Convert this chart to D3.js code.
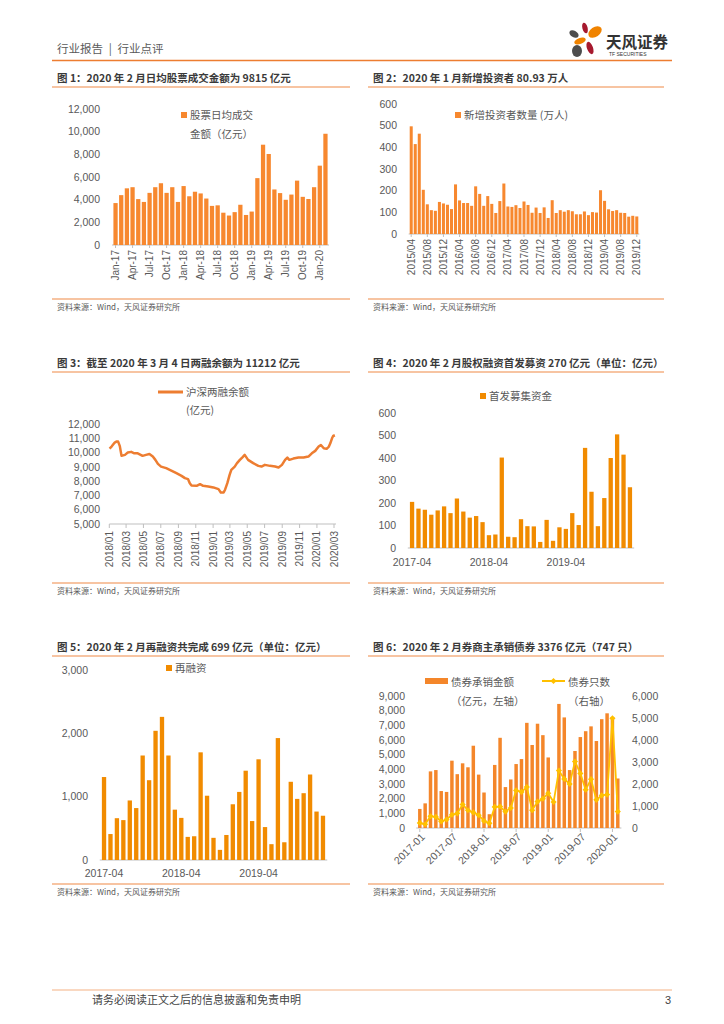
<!DOCTYPE html>
<html>
<head>
<meta charset="utf-8">
<script src="https://cdn.jsdelivr.net/npm/d3@7"></script>
<style>
  body { margin: 0; background: #fff; }
</style>
</head>
<body>
<svg id="page" width="724" height="1024"></svg>
<script>
// month keys helper (categories only, values are typed below)
function monthSeq(year, month, n) {
    return d3.range(n).map(i => d3.timeFormat("%Y-%m")(new Date(year, month - 1 + i, 1)));
}

// Fig 1: daily average turnover, Jan-17 .. Feb-20
const turnoverMonths = monthSeq(2017, 1, 38);
const turnoverValues = [3700, 4400, 5000, 5100, 4050, 3800, 4600, 5100, 5450, 4600, 5100, 3800,
    5200, 4300, 4700, 4550, 4100, 3450, 3500, 2850, 2600, 2900, 3550, 2650,
    2950, 5900, 8850, 8030, 4900, 4580, 3990, 4450, 5680, 4250, 4060, 5100,
    7000, 9815];
const turnoverTicks = ["Jan-17", "Apr-17", "Jul-17", "Oct-17", "Jan-18", "Apr-18", "Jul-18",
    "Oct-18", "Jan-19", "Apr-19", "Jul-19", "Oct-19", "Jan-20"];
const turnoverYTicks = [0, 2000, 4000, 6000, 8000, 10000, 12000];

// Fig 2: new investors, 2015/04 .. 2019/12
const investorMonths = monthSeq(2015, 4, 57);
const investorValues = [497, 415, 463, 204, 137, 110, 107, 148, 141, 135,
    115, 229, 155, 143, 143, 130, 220, 185, 130, 175,
    139, 97, 152, 233, 127, 125, 133, 120, 150, 134,
    98, 122, 97, 123, 74, 156, 97, 110, 103, 110,
    105, 91, 91, 104, 87, 101, 99, 202, 153, 114,
    106, 110, 98, 97, 80, 84, 81];
const investorTicks = ["2015/04", "2015/08", "2015/12", "2016/04", "2016/08", "2016/12", "2017/04",
    "2017/08", "2017/12", "2018/04", "2018/08", "2018/12", "2019/04", "2019/08", "2019/12"];
const investorYTicks = [0, 100, 200, 300, 400, 500, 600];

// Fig 3: margin balance
const marginDates = ["2018-01-02", "2018-01-09", "2018-01-20", "2018-01-26", "2018-02-01", "2018-02-07",
    "2018-02-13", "2018-02-25", "2018-03-07", "2018-03-19", "2018-03-30", "2018-04-11", "2018-04-28",
    "2018-05-10", "2018-05-22", "2018-06-03", "2018-06-12", "2018-06-21", "2018-07-02", "2018-07-20",
    "2018-08-07", "2018-08-25", "2018-09-12", "2018-09-24", "2018-10-05", "2018-10-11", "2018-10-17",
    "2018-11-04", "2018-11-16", "2018-11-27", "2018-12-15", "2019-01-02", "2019-01-20", "2019-01-28",
    "2019-02-07", "2019-02-12", "2019-02-20", "2019-02-28", "2019-03-06", "2019-03-18", "2019-03-26",
    "2019-04-05", "2019-04-14", "2019-04-22", "2019-05-04", "2019-05-22", "2019-06-09", "2019-06-20",
    "2019-07-02", "2019-07-20", "2019-08-07", "2019-08-19", "2019-08-31", "2019-09-11", "2019-09-19",
    "2019-09-26", "2019-10-10", "2019-10-28", "2019-11-15", "2019-12-02", "2019-12-14", "2019-12-26",
    "2020-01-07", "2020-01-15", "2020-01-25", "2020-02-04", "2020-02-12", "2020-02-17", "2020-02-23",
    "2020-02-27", "2020-03-04"];
const marginValues = [10280, 10420, 10700, 10770, 10770, 10450, 9770, 9840, 10000, 10050,
    9950, 9950, 9770, 9840, 9900, 9720, 9490, 9210, 9020, 8910,
    8740, 8560, 8370, 8210, 8140, 7860, 7700, 7670, 7790, 7670,
    7630, 7560, 7440, 7210, 7210, 7400, 7860, 8440, 8790, 9020,
    9260, 9490, 9670, 9840, 9490, 9260, 9070, 9020, 9140, 9070,
    9020, 8950, 9140, 9490, 9650, 9490, 9580, 9650, 9650, 9720,
    9950, 10120, 10420, 10530, 10300, 10260, 10420, 10650, 11000, 11160,
    11212];
const marginTicks = ["2018/01", "2018/03", "2018/05", "2018/07", "2018/09", "2018/11", "2019/01",
    "2019/03", "2019/05", "2019/07", "2019/09", "2019/11", "2020/01", "2020/03"];
const marginYTicks = [5000, 6000, 7000, 8000, 9000, 10000, 11000, 12000];

// Fig 4: IPO funds, 2017-04 .. 2020-02
const ipoMonths = monthSeq(2017, 4, 35);
const ipoValues = [205, 175, 170, 148, 167, 185, 155, 220, 162, 135,
    142, 115, 57, 60, 402, 50, 48, 128, 97, 96,
    27, 125, 32, 92, 85, 155, 102, 445, 250, 97,
    222, 400, 505, 415, 270];
const ipoYTicks = [0, 100, 200, 300, 400, 500, 600];

// Fig 5: refinancing, 2017-04 .. 2020-02
const refiMonths = monthSeq(2017, 4, 35);
const refiValues = [1310, 410, 660, 630, 940, 820, 1650, 1260, 2040, 2260,
    1650, 795, 665, 365, 375, 1700, 1015, 350, 160, 395,
    880, 1075, 1410, 615, 1590, 520, 250, 1925, 280, 1235,
    965, 1055, 1350, 765, 699];
const refiYTicks = [0, 1000, 2000, 3000];
const yearTicks = ["2017-04", "2018-04", "2019-04"];

// Fig 6: bond underwriting, 2017-01 .. 2020-02
const bondMonths = monthSeq(2017, 1, 38);
const bondAmount = [1300, 1680, 3860, 3950, 2520, 2460, 4590, 3670, 4410, 4140,
    5610, 3640, 2420, 940, 4300, 6150, 2790, 3310, 4360, 4700,
    7170, 5660, 7110, 6330, 4810, 1700, 8460, 7540, 3950, 5250,
    6200, 6600, 6930, 5930, 7420, 7820, 7550, 3376];
const bondCount = [230, 170, 535, 505, 295, 385, 600, 665, 1070, 805,
    710, 580, 320, 220, 960, 975, 745, 910, 1710, 1640,
    1860, 810, 1200, 1330, 1580, 1180, 2610, 2230, 2000, 3020,
    2480, 1740, 2220, 1280, 1480, 1520, 4990, 747];
const bondTicks = ["2017-01", "2017-07", "2018-01", "2018-07", "2019-01", "2019-07", "2020-01"];
const bondLeftTicks = [0, 1000, 2000, 3000, 4000, 5000, 6000, 7000, 8000, 9000];
const bondRightTicks = [0, 1000, 2000, 3000, 4000, 5000, 6000];

const svg = d3.select("#page");
const numFmt = d3.format(",");
const TICK = "#595959";
const CN = '"Noto Sans CJK SC", sans-serif';
const NUM = '"Liberation Sans", Arial, sans-serif';

function addText(x, y, str, size, opts = {}) {
    return svg.append("text")
        .attr("x", x).attr("y", y)
        .attr("font-family", opts.family || CN)
        .attr("font-size", size)
        .attr("font-weight", opts.weight || "normal")
        .attr("fill", opts.fill || TICK)
        .attr("text-anchor", opts.anchor || "start")
        .style("white-space", "pre")
        .text(str);
}

function hline(x1, x2, y, color, w) {
    svg.append("line")
        .attr("x1", x1).attr("x2", x2).attr("y1", y).attr("y2", y)
        .attr("stroke", color).attr("stroke-width", w);
}

function drawPage() {
    // header
    addText(57, 53, "行业报告\u2002|\u2002行业点评", 11.5, { fill: "#5a5a5a" });
    hline(52, 672, 60.5, "#ED7D31", 1.5);

    // logo petals
    const petals = [
        { cx: 585, cy: 28, rx: 2.6, ry: 5.5, r: -15, c: "#A6192E" },
        { cx: 574, cy: 34, rx: 5, ry: 3.2, r: 30, c: "#4D4D4D" },
        { cx: 595, cy: 32, rx: 7.5, ry: 4.8, r: -35, c: "#F08300" },
        { cx: 580, cy: 41, rx: 6, ry: 3, r: -20, c: "#F08300" },
        { cx: 590, cy: 48, rx: 3, ry: 6.5, r: -20, c: "#A6192E" },
        { cx: 577, cy: 51, rx: 5, ry: 6, r: 0, c: "#4D4D4D" }
    ];
    svg.selectAll(".petal").data(petals).enter().append("ellipse")
        .attr("class", "petal")
        .attr("cx", d => d.cx).attr("cy", d => d.cy)
        .attr("rx", d => d.rx).attr("ry", d => d.ry)
        .attr("transform", d => `rotate(${d.r},${d.cx},${d.cy})`)
        .attr("fill", d => d.c);
    addText(606, 48, "天风证券", 15.5, { fill: "#333", weight: "bold" });
    addText(609, 56, "TF SECURITIES", 5, { fill: "#333", family: NUM });

    // footer
    hline(52, 672, 990, "#F4B183", 1);
    addText(92, 1004, "请务必阅读正文之后的信息披露和免责申明", 11, { fill: "#444" });
    addText(671, 1004, "3", 11, { fill: "#444", family: NUM, anchor: "end" });
}

function drawFrame(x, yTitle, title, x2, ySource) {
    addText(x + 5, yTitle, title, 10.5, { fill: "#3a3a3a", weight: "bold" });
    hline(x, x2, yTitle + 5, "#F4B183", 1.5);
    hline(x, x2, ySource - 11, "#F4B183", 1.5);
    addText(x + 5, ySource, "资料来源：Wind，天风证券研究所", 8, { fill: "#595959" });
}

function drawBarChart(o) {
    const x = d3.scaleBand().domain(o.categories).range(o.xRange).padding(o.padding);
    const y = d3.scaleLinear().domain(o.yDomain).range(o.yRange);

    // y tick labels
    svg.append("g").selectAll("text")
        .data(o.yTicks).enter().append("text")
        .attr("x", o.yLabelX).attr("y", d => y(d)).attr("dy", "0.35em")
        .attr("text-anchor", "end")
        .attr("font-family", NUM).attr("font-size", o.fontSize || 10.5)
        .attr("fill", TICK)
        .text(d => numFmt(d));

    // baseline
    hline(o.xRange[0], o.xRange[1], y(0), "#BFBFBF", 1);

    // bars
    svg.append("g").selectAll("rect")
        .data(o.values).enter().append("rect")
        .attr("x", (d, i) => x(o.categories[i]))
        .attr("y", d => y(d))
        .attr("width", x.bandwidth())
        .attr("height", d => y(0) - y(d))
        .attr("fill", o.color);

    return { x, y };
}

function legendSquare(x, y, color, lines, size) {
    svg.append("rect").attr("x", x).attr("y", y).attr("width", 6).attr("height", 6).attr("fill", color);
    lines.forEach((t, i) => addText(x + 9, y + 7 + i * 19, t, size || 10.5));
}

// rotated month labels, every `step` categories
function rotatedLabels(scale, cats, ticks, step, yPos, angle, size) {
    const g = svg.append("g");
    ticks.forEach((t, k) => {
        const c = scale(cats[k * step]) + scale.bandwidth() / 2;
        g.append("line").attr("x1", c).attr("x2", c).attr("y1", yPos - 5).attr("y2", yPos - 2)
            .attr("stroke", "#BFBFBF");
        g.append("text")
            .attr("transform", `translate(${c + (angle === -90 ? 0 : 2)},${yPos}) rotate(${angle})`)
            .attr("dy", angle === -90 ? "0.35em" : "0.5em")
            .attr("text-anchor", "end")
            .attr("font-family", NUM).attr("font-size", size)
            .attr("fill", TICK)
            .text(t);
    });
}

function flatLabels(scale, cats, ticks, step, yPos) {
    ticks.forEach((t, k) => {
        const c = scale(cats[k * step]) + scale.bandwidth() / 2;
        svg.append("text").attr("x", c).attr("y", yPos)
            .attr("text-anchor", "middle")
            .attr("font-family", NUM).attr("font-size", 10.5).attr("fill", TICK)
            .text(t);
    });
}

// ---------- Fig 1 ----------
function renderTurnover() {
    drawFrame(52, 82, "图 1：2020 年 2 月日均股票成交金额为 9815 亿元", 350, 310);
    const s = drawBarChart({
        categories: turnoverMonths, values: turnoverValues,
        xRange: [112, 329], padding: 0.25,
        yDomain: [0, 12000], yRange: [245, 109], yTicks: turnoverYTicks,
        yLabelX: 100, color: "#F7882F"
    });
    rotatedLabels(s.x, turnoverMonths, turnoverTicks, 3, 250, -90, 10);
    legendSquare(181, 112, "#F7882F", ["股票日均成交", "金额（亿元）"], 10.5);
}

// ---------- Fig 2 ----------
function renderInvestors() {
    drawFrame(368, 82, "图 2：2020 年 1 月新增投资者 80.93 万人", 664, 310);
    const s = drawBarChart({
        categories: investorMonths, values: investorValues,
        xRange: [408.7, 639.3], padding: 0.25,
        yDomain: [0, 600], yRange: [234, 104], yTicks: investorYTicks,
        yLabelX: 397, color: "#F7882F"
    });
    rotatedLabels(s.x, investorMonths, investorTicks, 4, 239, -90, 10);
    legendSquare(455, 112, "#F7882F", ["新增投资者数量 (万人)"], 10.5);
}

// ---------- Fig 3 ----------
function renderMargin() {
    drawFrame(52, 367, "图 3：截至 2020 年 3 月 4 日两融余额为 11212 亿元", 350, 594);
    const parse = d3.timeParse("%Y-%m-%d");
    const parseTick = d3.timeParse("%Y/%m");
    const data = marginDates.map((d, i) => ({ date: parse(d), value: marginValues[i] }));

    const x = d3.scaleTime()
        .domain([parseTick("2018/01"), parseTick("2020/03")])
        .range([109.3, 334]);
    const y = d3.scaleLinear().domain([5000, 12000]).range([524, 424]);

    svg.append("g").selectAll("text")
        .data(marginYTicks).enter().append("text")
        .attr("x", 100).attr("y", d => y(d)).attr("dy", "0.35em")
        .attr("text-anchor", "end")
        .attr("font-family", NUM).attr("font-size", 10.5).attr("fill", TICK)
        .text(d => numFmt(d));

    hline(109.3, 336, 524, "#BFBFBF", 1);
    marginTicks.forEach(t => {
        const px = x(parseTick(t));
        svg.append("line").attr("x1", px).attr("x2", px).attr("y1", 524).attr("y2", 528).attr("stroke", "#BFBFBF");
        svg.append("text")
            .attr("transform", `translate(${px},531) rotate(-90)`)
            .attr("dy", "0.35em").attr("text-anchor", "end")
            .attr("font-family", NUM).attr("font-size", 10).attr("fill", TICK)
            .text(t);
    });

    const line = d3.line().x(d => x(d.date)).y(d => y(d.value));
    svg.append("path").datum(data)
        .attr("fill", "none").attr("stroke", "#ED7D31")
        .attr("stroke-width", 2.5).attr("stroke-linejoin", "round")
        .attr("d", line);

    // legend
    svg.append("line").attr("x1", 158).attr("x2", 183).attr("y1", 392).attr("y2", 392)
        .attr("stroke", "#ED7D31").attr("stroke-width", 3);
    addText(186, 396, "沪深两融余额", 10.5);
    addText(186, 414, "(亿元)", 10.5);
}

// ---------- Fig 4 ----------
function renderIpo() {
    drawFrame(368, 367, "图 4：2020 年 2 月股权融资首发募资 270 亿元（单位：亿元）", 664, 594);
    const s = drawBarChart({
        categories: ipoMonths, values: ipoValues,
        xRange: [407.8, 634.2], padding: 0.33,
        yDomain: [0, 600], yRange: [548, 413], yTicks: ipoYTicks,
        yLabelX: 396, color: "#F18B00"
    });
    flatLabels(s.x, ipoMonths, yearTicks, 12, 566);
    legendSquare(480, 393, "#F18B00", ["首发募集资金"], 10.5);
}

// ---------- Fig 5 ----------
function renderRefi() {
    drawFrame(52, 651, "图 5：2020 年 2 月再融资共完成 699 亿元（单位：亿元）", 350, 895);
    const s = drawBarChart({
        categories: refiMonths, values: refiValues,
        xRange: [99.75, 327.25], padding: 0.33,
        yDomain: [0, 3000], yRange: [860, 670], yTicks: refiYTicks,
        yLabelX: 88, color: "#F18B00"
    });
    flatLabels(s.x, refiMonths, yearTicks, 12, 877);
    legendSquare(166, 665, "#F18B00", ["再融资"], 10.5);
}

// ---------- Fig 6 ----------
function renderBonds() {
    drawFrame(368, 651, "图 6：2020 年 2 月券商主承销债券 3376 亿元（747 只）", 664, 895);
    const s = drawBarChart({
        categories: bondMonths, values: bondAmount,
        xRange: [416.2, 621.4], padding: 0.35,
        yDomain: [0, 9000], yRange: [828, 696], yTicks: bondLeftTicks,
        yLabelX: 405, color: "#F4862A"
    });
    const yRight = d3.scaleLinear().domain([0, 6000]).range([828, 696]);
    svg.append("g").selectAll("text")
        .data(bondRightTicks).enter().append("text")
        .attr("x", 632).attr("y", d => yRight(d)).attr("dy", "0.35em")
        .attr("font-family", NUM).attr("font-size", 10.5).attr("fill", TICK)
        .text(d => numFmt(d));

    const cx = (d, i) => s.x(bondMonths[i]) + s.x.bandwidth() / 2;
    const line = d3.line().x(cx).y(d => yRight(d));
    svg.append("path").datum(bondCount)
        .attr("fill", "none").attr("stroke", "#FFC000").attr("stroke-width", 1.8)
        .attr("d", line);
    const diamond = d3.symbol().type(d3.symbolDiamond2).size(24);
    svg.append("g").selectAll("path")
        .data(bondCount).enter().append("path")
        .attr("transform", (d, i) => `translate(${cx(d, i)},${yRight(d)})`)
        .attr("d", diamond)
        .attr("fill", "#FFC000");

    rotatedLabels(s.x, bondMonths, bondTicks, 6, 834, -45, 10.5);

    // legend
    svg.append("rect").attr("x", 425).attr("y", 678).attr("width", 23).attr("height", 6).attr("fill", "#F4862A");
    addText(451, 686, "债券承销金额", 10.5);
    addText(451, 705, "（亿元，左轴）", 10.5);
    svg.append("line").attr("x1", 542).attr("x2", 565).attr("y1", 681).attr("y2", 681)
        .attr("stroke", "#FFC000").attr("stroke-width", 2);
    svg.append("path").attr("transform", "translate(553.5,681)").attr("d", diamond).attr("fill", "#FFC000");
    addText(568, 686, "债券只数", 10.5);
    addText(568, 705, "（右轴）", 10.5);
}

drawPage();
renderTurnover();
renderInvestors();
renderMargin();
renderIpo();
renderRefi();
renderBonds();
</script>
</body>
</html>
